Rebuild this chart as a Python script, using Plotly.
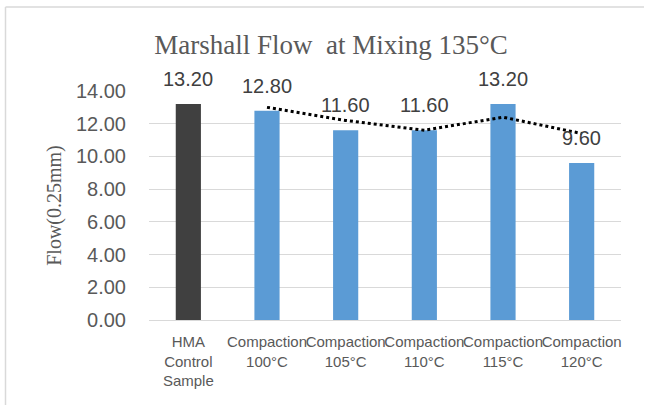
import plotly.graph_objects as go

categories = ["HMA<br>Control<br>Sample", "Compaction<br>100°C", "Compaction<br>105°C",
              "Compaction<br>110°C", "Compaction<br>115°C", "Compaction<br>120°C"]
flow = [13.20, 12.80, 11.60, 11.60, 13.20, 9.60]
bar_colors = ["#404040", "#5B9BD5", "#5B9BD5", "#5B9BD5", "#5B9BD5", "#5B9BD5"]
# 2-period moving average trendline
trend_cats = categories[1:]
trend_vals = [13.0, 12.2, 11.6, 12.4, 11.4]
y_ticks = [0, 2, 4, 6, 8, 10, 12, 14]

W, H = 645, 405
L, R, T, B = 149, 24, 91, 85

fig = go.Figure()
fig.add_trace(go.Bar(
    x=categories, y=flow, marker=dict(color=bar_colors, line=dict(width=0)),
    width=0.32, showlegend=False, hoverinfo="skip",
))
fig.add_trace(go.Scatter(
    x=trend_cats, y=trend_vals, mode="lines",
    line=dict(color="black", width=3, dash="dot"), showlegend=False, hoverinfo="skip",
))
for c, v in zip(categories, flow):
    fig.add_annotation(x=c, y=v, xref="x", yref="y", text=f"{v:.2f}", showarrow=False,
                       yanchor="bottom", xanchor="center", yshift=12,
                       font=dict(family="Liberation Sans, Arial", size=20, color="#404040"))

pw = W - L - R
ph = H - T - B
x_left = (5.5 - L) / pw
y_top = (H - B - 7) / ph
fig.add_shape(type="line", xref="paper", yref="paper", x0=x_left, x1=(W - L - 1) / pw,
              y0=y_top, y1=y_top, line=dict(color="#D9D9D9", width=1.5))
fig.add_shape(type="line", xref="paper", yref="paper", x0=x_left, x1=x_left,
              y0=y_top, y1=-B / ph - 0.05, line=dict(color="#D9D9D9", width=1.5))

fig.update_layout(
    width=W, height=H, margin=dict(l=L, r=R, t=T, b=B, autoexpand=False),
    paper_bgcolor="white", plot_bgcolor="white", showlegend=False,
    title=dict(text="Marshall Flow  at Mixing 135°C", x=(331 - L) / pw, xref="paper",
               xanchor="center", y=1 - 45 / H, yanchor="middle",
               font=dict(family="Liberation Serif, Times New Roman", size=27, color="#595959")),
    xaxis=dict(showgrid=False, showline=True, linecolor="#D9D9D9", linewidth=1,
               ticks="", tickangle=0, ticklabelstandoff=8,
               tickfont=dict(family="Liberation Sans, Arial", size=15, color="#595959"),
               fixedrange=True),
    yaxis=dict(range=[0, 14], tickvals=y_ticks, ticktext=[f"{v:.2f}" for v in y_ticks],
               showgrid=True, gridcolor="#D9D9D9", gridwidth=1, zeroline=False,
               showline=False, ticks="", ticklen=0, ticklabelstandoff=22,
               tickfont=dict(family="Liberation Sans, Arial", size=20, color="#595959"),
               title=dict(text="Flow(0.25mm)", standoff=8,
                          font=dict(family="Liberation Serif, Times New Roman", size=20, color="#595959"))),
)

fig.write_html("out.html", config={"displayModeBar": False},
               post_script="document.body.style.margin='0';document.body.style.overflow='hidden';")
